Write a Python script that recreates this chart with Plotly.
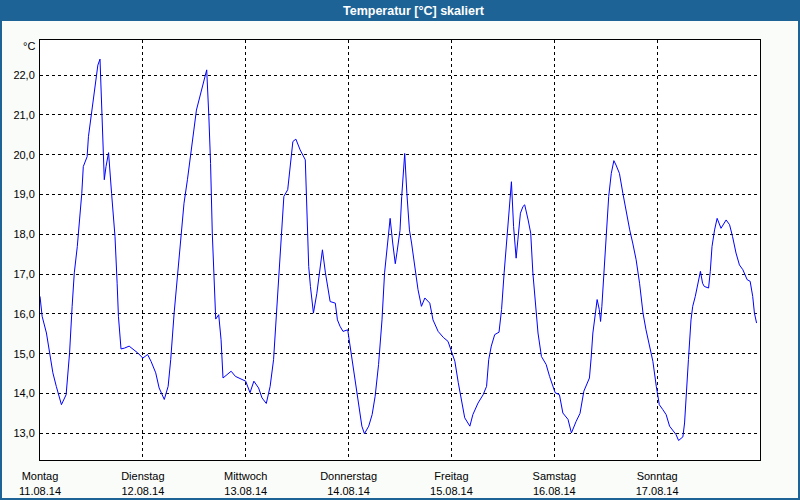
import pandas as pd
import plotly.graph_objects as go

# ---- data ----
start_date = "2014-08-11"
hours = [0.0, 0.5, 1.5, 2.2, 3.0, 3.8, 5.0, 6.1, 6.9, 7.5, 8.0, 8.7, 9.2, 9.75, 10.1, 11.0, 11.3, 11.9, 12.3,
         13.1, 13.5, 14.0, 14.4, 14.7, 15.0, 15.4, 16.0, 16.7, 17.5, 18.0, 18.3, 18.9, 19.7, 20.8, 22.0, 22.8,
         24.0, 25.1, 25.9, 27.0, 27.8, 29.0, 29.9, 30.5, 31.3, 32.1, 32.8, 33.6, 34.4, 35.1, 35.9, 36.5, 37.3,
         38.2, 38.9, 39.4, 39.8, 40.2, 40.6, 41.0, 41.7, 42.25, 42.7, 43.5, 44.6, 45.6, 46.8, 48.0, 49.0, 49.9,
         51.0, 51.8, 52.8, 53.7, 54.5, 55.3, 55.9, 56.5, 56.9, 57.8, 58.3, 59.0, 59.7, 60.7, 61.9, 62.3, 62.7,
         63.1, 63.8, 64.6, 65.2, 65.9, 66.6, 67.3, 67.7, 68.9, 69.4, 70.0, 70.7, 71.8, 72.2, 72.8, 73.6, 74.4,
         75.1, 75.7, 76.7, 77.5, 78.2, 79.0, 79.8, 80.4, 81.0, 81.3, 81.7, 82.3, 82.9, 83.3, 83.7, 84.0, 84.4,
         84.8, 85.1, 85.6, 86.2, 86.7, 87.5, 88.2, 89.0, 89.8, 90.95, 91.7, 92.9, 94.1, 95.2, 96.0, 96.8, 97.6,
         98.3, 99.1, 100.3, 101.0, 102.2, 103.4, 104.2, 104.7, 105.3, 106.1, 107.1, 107.7, 108.3, 108.8, 109.4,
         110.0, 110.5, 111.1, 111.5, 112.1, 112.7, 113.1, 113.9, 114.5, 115.0, 115.6, 116.2, 117.0, 118.1,
         118.9, 119.7, 120.2, 121.2, 122.0, 123.2, 124.0, 125.1, 126.0, 126.9, 127.7, 128.2, 128.6, 129.0,
         129.6, 130.0, 130.5, 130.8, 131.1, 131.6, 132.1, 132.7, 133.3, 133.9, 134.4, 135.2, 136.0, 136.8,
         137.6, 138.3, 139.1, 139.9, 140.7, 141.4, 142.2, 143.0, 143.8, 144.5, 145.3, 146.1, 146.9, 147.7,
         148.4, 149.0, 150.0, 150.4, 150.8, 151.3, 151.9, 152.3, 152.9, 153.5, 154.1, 154.6, 155.0, 156.0,
         156.4, 156.8, 157.4, 158.0, 158.9, 160.1, 160.9, 161.6, 162.4, 163.2, 164.0, 165.0, 165.7, 166.3,
         166.7, 167.2]
temps = [16.44, 15.94, 15.52, 15.02, 14.52, 14.18, 13.72, 13.97, 15.02, 16.19, 17.03, 17.69, 18.28, 19.03, 19.70,
         19.95, 20.45, 20.95, 21.37, 22.04, 22.25, 22.40, 21.25, 20.45, 19.37, 19.70, 20.05, 19.03, 17.94, 16.77,
         15.94, 15.12, 15.14, 15.19, 15.10, 15.02, 14.89, 14.98, 14.81, 14.52, 14.14, 13.85, 14.18, 14.85, 16.02,
         17.03, 17.86, 18.78, 19.37, 20.03, 20.62, 21.12, 21.46, 21.87, 22.13, 20.95, 19.78, 18.03, 17.11, 15.87,
         15.98, 15.35, 14.39, 14.47, 14.56, 14.43, 14.37, 14.31, 14.02, 14.31, 14.14, 13.89, 13.75, 14.18, 14.85,
         16.19, 17.19, 18.28, 18.95, 19.12, 19.70, 20.33, 20.39, 20.12, 19.87, 18.70, 17.19, 16.69, 16.02, 16.52,
         17.03, 17.61, 17.03, 16.52, 16.31, 16.27, 15.85, 15.69, 15.56, 15.60, 15.31, 14.85, 14.18, 13.60, 13.18,
         12.99, 13.18, 13.47, 13.93, 14.73, 15.85, 17.03, 17.69, 18.03, 18.40, 17.78, 17.26, 17.55, 17.95, 18.10,
         18.95, 19.53, 20.03, 19.03, 18.11, 17.78, 17.19, 16.61, 16.19, 16.40, 16.27, 15.85, 15.56, 15.41, 15.31,
         15.06, 14.81, 14.27, 13.85, 13.39, 13.18, 13.47, 13.76, 13.97, 14.18, 14.85, 15.19, 15.48, 15.54, 16.11,
         17.03, 17.69, 18.70, 19.32, 18.20, 17.40, 17.86, 18.53, 18.70, 18.74, 18.36, 18.03, 17.03, 16.19, 15.52,
         14.93, 14.73, 14.43, 14.14, 14.02, 13.97, 13.51, 13.35, 13.01, 13.30, 13.50, 14.06, 14.27, 14.39, 14.89,
         15.52, 16.02, 16.36, 16.11, 15.81, 16.19, 17.11, 18.03, 18.95, 19.53, 19.85, 19.74, 19.53, 19.03, 18.53,
         18.11, 17.78, 17.36, 16.77, 16.02, 15.60, 15.19, 14.81, 14.18, 13.72, 13.60, 13.47, 13.18, 13.08, 12.97,
         12.82, 12.91, 13.26, 14.10, 14.85, 15.85, 16.19, 16.44, 16.77, 17.07, 16.77, 16.69, 16.65, 17.07, 17.69,
         18.11, 18.40, 18.15, 18.36, 18.24, 17.94, 17.53, 17.23, 17.11, 16.86, 16.82, 16.44, 16.02, 15.77]

day_names = ["Montag", "Dienstag", "Mittwoch", "Donnerstag", "Freitag", "Samstag", "Sonntag"]
day_dates = ["11.08.14", "12.08.14", "13.08.14", "14.08.14", "15.08.14", "16.08.14", "17.08.14"]
y_ticks = [13, 14, 15, 16, 17, 18, 19, 20, 21, 22]
y_ticktext = ["13,0", "14,0", "15,0", "16,0", "17,0", "18,0", "19,0", "20,0", "21,0", "22,0"]
title_text = "Temperatur [°C] skaliert"
unit_text = "°C"

# ---- build ----
base = pd.Timestamp(start_date)
times = base + pd.to_timedelta(hours, unit="h")
day_ticks = [base + pd.Timedelta(days=i) for i in range(len(day_names))]
day_ticktext = [f"{n}<br>{d}" for n, d in zip(day_names, day_dates)]

W, H = 800, 500
ML, MR, MT, MB = 40, 40, 40, 40
PW, PH = W - ML - MR, H - MT - MB
BAR = "#1D6396"

def px_x(px):
    return (px - ML) / PW

def px_y(py):
    return 1 - (py - MT) / PH

fig = go.Figure()
fig.add_trace(go.Scatter(x=times, y=temps, mode="lines",
                         line=dict(color="#0000FF", width=1), hoverinfo="x+y"))

font = dict(family="Liberation Sans, Arial, sans-serif", size=11, color="#000000")

fig.update_layout(
    width=W, height=H,
    margin=dict(l=ML, r=MR, t=MT, b=MB, pad=0, autoexpand=False),
    paper_bgcolor="#FAFCFA",
    plot_bgcolor="#FFFFFF",
    showlegend=False,
    font=font,
    xaxis=dict(
        range=[base, base + pd.Timedelta(days=7)],
        tickmode="array", tickvals=day_ticks, ticktext=day_ticktext,
        showgrid=True, gridcolor="#000000", gridwidth=1, griddash="3px,3px",
        showline=True, linecolor="#000000", linewidth=1, mirror=True,
        ticks="outside", ticklen=6, tickcolor="rgba(0,0,0,0)",
        tickfont=font, zeroline=False, automargin=False,
    ),
    yaxis=dict(
        range=[12.33, 22.88],
        tickmode="array", tickvals=y_ticks, ticktext=y_ticktext,
        showgrid=True, gridcolor="#000000", gridwidth=1, griddash="3px,3px",
        showline=True, linecolor="#000000", linewidth=1, mirror=True,
        ticks="outside", ticklen=2, tickcolor="rgba(0,0,0,0)",
        tickfont=font, zeroline=False, automargin=False,
    ),
    shapes=[
        # title bar
        dict(type="rect", xref="paper", yref="paper",
             x0=px_x(0), x1=px_x(W), y0=px_y(21), y1=px_y(0),
             fillcolor=BAR, line=dict(width=0), layer="above"),
        # outer frame
        dict(type="rect", xref="paper", yref="paper",
             x0=px_x(1), x1=px_x(W - 1), y0=px_y(H - 1), y1=px_y(10),
             line=dict(color=BAR, width=2), fillcolor="rgba(0,0,0,0)", layer="above"),
    ],
    annotations=[
        dict(text=f"<b>{title_text}</b>", xref="paper", yref="paper",
             x=px_x(414), y=px_y(10.5), xanchor="center", yanchor="middle",
             showarrow=False, font=dict(family="Liberation Sans, Arial, sans-serif", size=12.5, color="#FFFFFF")),
        dict(text=unit_text, xref="paper", yref="paper",
             x=px_x(37), y=px_y(46), xanchor="right", yanchor="middle",
             showarrow=False, font=font),
    ],
)

fig.write_html("out.html", config={"displayModeBar": False},
               post_script="document.body.style.margin='0';document.body.style.overflow='hidden';")
